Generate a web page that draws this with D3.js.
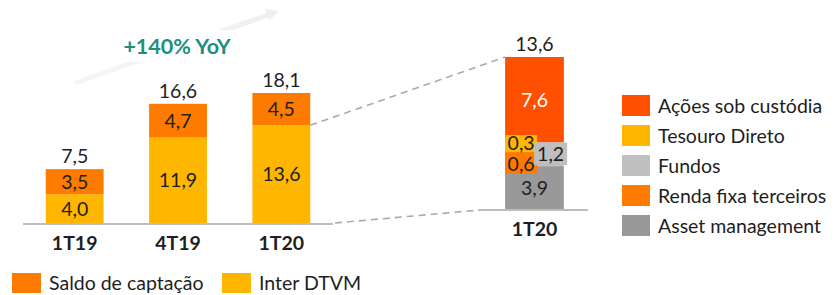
<!DOCTYPE html>
<html>
<head>
<meta charset="utf-8">
<script src="https://cdn.jsdelivr.net/npm/d3@7"></script>
<style>
  body { margin: 0; background: #fff; }
  svg { display: block; font-family: Lato, "Open Sans", sans-serif; }
</style>
</head>
<body>
<div id="chart"></div>
<script>
// left chart: totals per quarter
const quarters = ["1T19", "4T19", "1T20"];
const interDTVM = [4.0, 11.9, 13.6];
const saldoCaptacao = [3.5, 4.7, 4.5];
const totals = [7.5, 16.6, 18.1];

// right chart: 1T20 breakdown of Inter DTVM
const breakdownCat = ["1T20"];
const assetMgmt = 3.9;
const rendaFixa = 0.6;
const tesouro = 0.3;
const fundos = 1.2;
const acoes = 7.6;
const breakdownTotal = 13.6;

const rightLegend = ["Ações sob custódia", "Tesouro Direto", "Fundos", "Renda fixa terceiros", "Asset management"];
const bottomLegend = ["Saldo de captação", "Inter DTVM"];

const C = {
  saldo: "#ff7b00",
  inter: "#ffb600",
  acoes: "#ff5000",
  fundos: "#bfbfbf",
  asset: "#999999",
  text: "#1e1e1e"
};
const rightColors = [C.acoes, C.inter, C.fundos, C.saldo, C.asset];
const FS = 19.5;

const width = 837, height = 295;
const svg = d3.select("#chart").append("svg")
  .attr("width", width)
  .attr("height", height);

// growth arrow + label (drawn first, stays in background)
const defs = svg.append("defs");
const grad = defs.append("linearGradient").attr("id", "arrGrad")
  .attr("x1", "0%").attr("x2", "100%");
grad.append("stop").attr("offset", "0%").attr("stop-color", "#f6f6f6");
grad.append("stop").attr("offset", "100%").attr("stop-color", "#efefef");
svg.append("line").attr("x1", 75).attr("y1", 83).attr("x2", 268).attr("y2", 15)
  .attr("stroke", "url(#arrGrad)").attr("stroke-width", 5);
svg.append("path").attr("d", "M279,11 L265,9 L269,21 Z").attr("fill", "#efefef");
svg.append("rect").attr("x", 122).attr("y", 30).attr("width", 112).attr("height", 32).attr("fill", "#fff");
svg.append("text").attr("x", 177).attr("y", 54).attr("text-anchor", "middle")
  .attr("font-size", 21.5).attr("font-weight", "bold").attr("fill", "#1f8f7c")
  .text("+140% YoY");

// ---- left stacked bars
const x = d3.scaleBand().domain(quarters).range([23, 333])
  .paddingInner(0.44).paddingOuter(0.22);
const y = d3.scaleLinear().domain([0, 18.1]).range([223, 93]);

const rows = quarters.map((q, i) => ({ q, inter: interDTVM[i], saldo: saldoCaptacao[i], total: totals[i] }));

const g = svg.append("g");
g.selectAll(".inter").data(rows).enter().append("rect")
  .attr("x", d => x(d.q)).attr("width", x.bandwidth())
  .attr("y", d => y(d.inter)).attr("height", d => y(0) - y(d.inter))
  .attr("fill", C.inter);
g.selectAll(".saldo").data(rows).enter().append("rect")
  .attr("x", d => x(d.q)).attr("width", x.bandwidth())
  .attr("y", d => y(d.inter + d.saldo)).attr("height", d => y(d.inter) - y(d.inter + d.saldo))
  .attr("fill", C.saldo);

const fmt = v => d3.format(".1f")(v).replace(".", ",");

g.selectAll(".lblInter").data(rows).enter().append("text")
  .attr("x", d => x(d.q) + x.bandwidth() / 2)
  .attr("y", d => (y(0) + y(d.inter)) / 2).attr("dy", "0.36em")
  .attr("text-anchor", "middle").attr("font-size", FS).attr("fill", C.text)
  .text(d => fmt(d.inter));
g.selectAll(".lblSaldo").data(rows).enter().append("text")
  .attr("x", d => x(d.q) + x.bandwidth() / 2)
  .attr("y", d => (y(d.inter) + y(d.inter + d.saldo)) / 2).attr("dy", "0.36em")
  .attr("text-anchor", "middle").attr("font-size", FS).attr("fill", C.text)
  .text(d => fmt(d.saldo));
g.selectAll(".lblTotal").data(rows).enter().append("text")
  .attr("x", d => x(d.q) + x.bandwidth() / 2)
  .attr("y", d => y(d.total) - 6)
  .attr("text-anchor", "middle").attr("font-size", FS).attr("fill", C.text)
  .text(d => fmt(d.total));

// baseline + category labels
g.append("line").attr("x1", 23).attr("x2", 333).attr("y1", y(0) + 1).attr("y2", y(0) + 1)
  .attr("stroke", "#bdbdbd").attr("stroke-width", 2);
g.selectAll(".cat").data(quarters).enter().append("text")
  .attr("x", d => x(d) + x.bandwidth() / 2).attr("y", 250)
  .attr("text-anchor", "middle").attr("font-size", FS).attr("font-weight", "bold")
  .attr("fill", C.text).text(d => d);

// ---- right breakdown bar
const xr = d3.scaleBand().domain(breakdownCat).range([478, 591])
  .paddingInner(0.48).paddingOuter(0.24);
const yr = d3.scaleLinear().domain([0, breakdownTotal]).range([210, 57]);
const x0 = xr("1T20"), bw = xr.bandwidth();

// zoom dashed guides
svg.append("line").attr("x1", x(quarters[2]) + x.bandwidth()).attr("y1", y(interDTVM[2]))
  .attr("x2", x0).attr("y2", yr(breakdownTotal))
  .attr("stroke", "#aaa").attr("stroke-width", 1.6).attr("stroke-dasharray", "7,5");
svg.append("line").attr("x1", 335).attr("y1", y(0)).attr("x2", 480).attr("y2", yr(0))
  .attr("stroke", "#aaa").attr("stroke-width", 1.6).attr("stroke-dasharray", "7,5");

const r = svg.append("g");
const midBase = assetMgmt;
const midTop = assetMgmt + rendaFixa + tesouro + fundos;

r.append("rect").attr("x", x0).attr("width", bw)
  .attr("y", yr(assetMgmt)).attr("height", yr(0) - yr(assetMgmt)).attr("fill", C.asset);
r.append("rect").attr("x", x0).attr("width", bw)
  .attr("y", yr(midTop + acoes)).attr("height", yr(midTop) - yr(midTop + acoes)).attr("fill", C.acoes);
// middle band behind callouts
r.append("rect").attr("x", x0).attr("width", bw)
  .attr("y", yr(midTop)).attr("height", yr(midBase) - yr(midTop)).attr("fill", C.fundos);

// callout boxes for the thin segments
const lw = 32;
const yb = yr(midBase);
r.append("rect").attr("x", x0).attr("y", yb - 31).attr("width", lw).attr("height", 18).attr("fill", C.inter);
r.append("rect").attr("x", x0).attr("y", yb - 14).attr("width", lw).attr("height", 21).attr("fill", C.saldo);
r.append("rect").attr("x", x0 + 29).attr("y", yr(midTop)).attr("width", 33)
  .attr("height", yb - 1 - yr(midTop)).attr("fill", C.fundos);

const rLabels = [
  { v: assetMgmt, x: x0 + bw / 2, y: (yr(0) + yr(assetMgmt)) / 2, c: C.text },
  { v: acoes, x: x0 + bw / 2, y: (yr(midTop) + yr(midTop + acoes)) / 2, c: "#fff" },
  { v: tesouro, x: x0 + lw / 2, y: yb - 23, c: C.text },
  { v: rendaFixa, x: x0 + lw / 2, y: yb - 2, c: C.text },
  { v: fundos, x: x0 + 29 + 16.5, y: (yr(midTop) + yb) / 2, c: C.text }
];
r.selectAll(".rl").data(rLabels).enter().append("text")
  .attr("x", d => d.x).attr("y", d => d.y).attr("dy", "0.36em")
  .attr("text-anchor", "middle").attr("font-size", FS).attr("fill", d => d.c)
  .text(d => fmt(d.v));
r.append("text").attr("x", x0 + bw / 2).attr("y", yr(breakdownTotal) - 6)
  .attr("text-anchor", "middle").attr("font-size", FS).attr("fill", C.text)
  .text(fmt(breakdownTotal));
r.append("line").attr("x1", 478).attr("x2", 588).attr("y1", yr(0)).attr("y2", yr(0))
  .attr("stroke", "#bdbdbd").attr("stroke-width", 2);
r.append("text").attr("x", x0 + bw / 2).attr("y", 236)
  .attr("text-anchor", "middle").attr("font-size", FS).attr("font-weight", "bold")
  .attr("fill", C.text).text(breakdownCat[0]);

// right legend
const lg = svg.append("g").selectAll("g").data(rightLegend).enter().append("g")
  .attr("transform", (d, i) => `translate(622, ${95 + i * 30})`);
lg.append("rect").attr("width", 28).attr("height", 21).attr("fill", (d, i) => rightColors[i]);
lg.append("text").attr("x", 36).attr("y", 10.5).attr("dy", "0.36em")
  .attr("font-size", FS).attr("fill", C.text).text(d => d);

// bottom legend
const bColors = [C.saldo, C.inter];
const bx = [12, 222];
const bl = svg.append("g").selectAll("g").data(bottomLegend).enter().append("g")
  .attr("transform", (d, i) => `translate(${bx[i]}, 273)`);
bl.append("rect").attr("width", 29).attr("height", 20).attr("fill", (d, i) => bColors[i]);
bl.append("text").attr("x", 37).attr("y", 10).attr("dy", "0.36em")
  .attr("font-size", FS).attr("fill", C.text).text(d => d);
</script>
</body>
</html>
